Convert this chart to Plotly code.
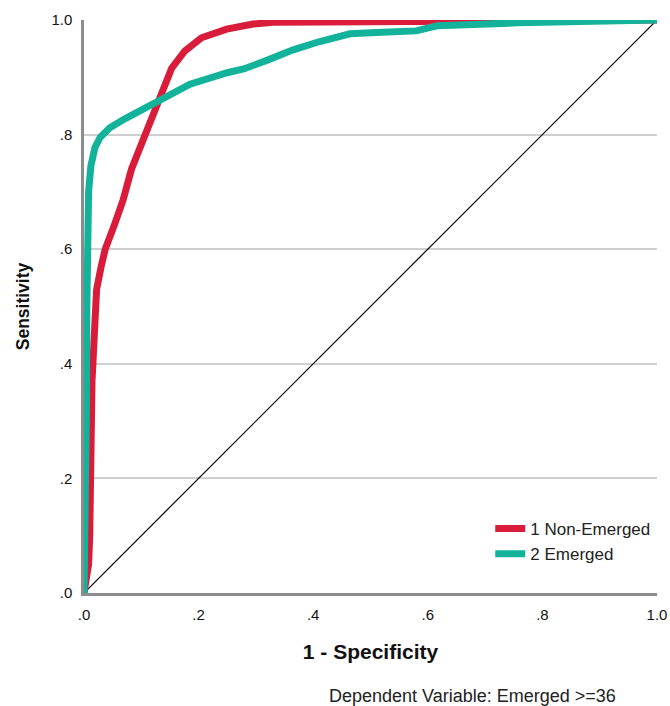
import plotly.graph_objects as go

# Non-Emerged ROC curve (1 - specificity, sensitivity)
red_x = [0, 0.008, 0.010, 0.012, 0.014, 0.018, 0.022, 0.030, 0.037, 0.054, 0.068, 0.083,
         0.106, 0.128, 0.153, 0.176, 0.205, 0.249, 0.295, 0.33, 0.55, 1.0]
red_y = [0, 0.05, 0.10, 0.25, 0.37, 0.45, 0.53, 0.57, 0.60, 0.645, 0.685, 0.74,
         0.80, 0.859, 0.916, 0.946, 0.969, 0.984, 0.993, 0.996, 0.998, 1.0]

# Emerged ROC curve
teal_x = [0, 0.002, 0.004, 0.005, 0.006, 0.008, 0.012, 0.019, 0.028, 0.045, 0.072, 0.109,
          0.15, 0.185, 0.25, 0.28, 0.32, 0.365, 0.41, 0.464, 0.51, 0.58, 0.616, 0.756, 1.0]
teal_y = [0, 0.10, 0.30, 0.50, 0.62, 0.70, 0.745, 0.777, 0.795, 0.812, 0.828, 0.847,
          0.869, 0.888, 0.908, 0.915, 0.93, 0.948, 0.962, 0.976, 0.978, 0.981, 0.99, 0.995, 1.0]

ref_x = [0, 1]
ref_y = [0, 1]

tick_vals = [0, 0.2, 0.4, 0.6, 0.8, 1.0]
tick_text = [".0", ".2", ".4", ".6", ".8", "1.0"]

names = ["1 Non-Emerged", "2 Emerged"]
RED = "#D91C3A"
TEAL = "#12B39A"
FONT = "Liberation Sans, Arial, sans-serif"

fig = go.Figure()
fig.add_trace(go.Scatter(x=ref_x, y=ref_y, mode="lines", line=dict(color="black", width=1.2),
                         showlegend=False, hoverinfo="skip"))
fig.add_trace(go.Scatter(x=red_x, y=red_y, mode="lines", name=names[0],
                         line=dict(color=RED, width=7)))
fig.add_trace(go.Scatter(x=teal_x, y=teal_y, mode="lines", name=names[1],
                         line=dict(color=TEAL, width=7)))

fig.update_layout(
    width=670, height=706,
    margin=dict(l=84, r=13, t=20, b=113, autoexpand=False),
    plot_bgcolor="white", paper_bgcolor="white",
    font=dict(family=FONT, color="black", size=15),
    showlegend=True,
    legend=dict(x=0.709, y=0.143, xanchor="left", yanchor="top",
                font=dict(size=17, family=FONT, color="#222"),
                bgcolor="rgba(0,0,0,0)", itemwidth=30, tracegroupgap=0),
    xaxis=dict(range=[0, 1], tickvals=tick_vals, ticktext=tick_text, showgrid=False,
               zeroline=False, showline=True, linecolor="#8c8c8c", linewidth=2.5,
               ticks="outside", ticklen=6, tickcolor="rgba(0,0,0,0)", automargin=False,
               tickfont=dict(size=15, family=FONT, color="#111"),
               title=dict(text="<b>1 - Specificity</b>", font=dict(size=21, family=FONT, color="#111"),
                          standoff=23)),
    yaxis=dict(range=[0, 1], tickvals=tick_vals, ticktext=tick_text, showgrid=True,
               gridcolor="#cfcfcf", gridwidth=1.5,
               zeroline=False, showline=True, linecolor="#8c8c8c", linewidth=2.5,
               ticks="outside", ticklen=6, tickcolor="rgba(0,0,0,0)", automargin=False,
               tickfont=dict(size=15, family=FONT, color="#111"),
               title=dict(text="<b>Sensitivity</b>", font=dict(size=17.5, family=FONT, color="#111"),
                          standoff=18)),
    annotations=[dict(text="Dependent Variable: Emerged >=36", xref="paper", yref="paper",
                      x=(618 - 84) / 573, y=-(696 - 593) / 574, xanchor="right", yanchor="middle",
                      showarrow=False, font=dict(size=18, family=FONT, color="#222"))],
)

fig.write_html("out.html", config={"displayModeBar": False},
               post_script="document.body.style.margin='0';document.body.style.padding='0';"
                           "document.documentElement.style.overflow='hidden';")
